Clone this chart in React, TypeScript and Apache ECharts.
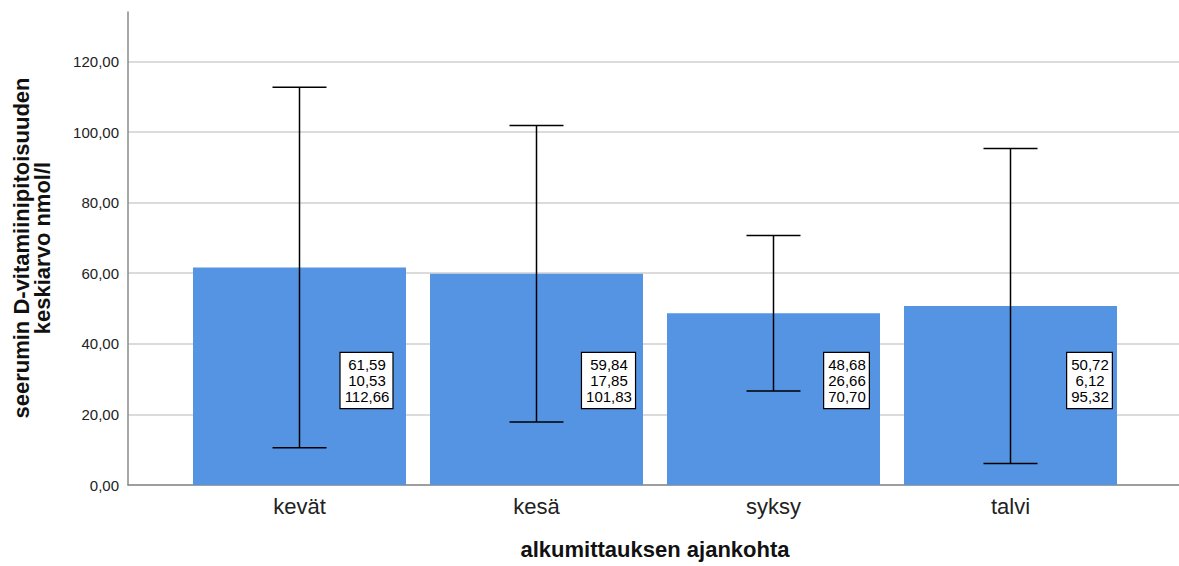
import React, { useEffect, useRef } from "react";
import * as echarts from "echarts";

const categories = ["kevät", "kesä", "syksy", "talvi"];
const means = [61.59, 59.84, 48.68, 50.72];
const lows = [10.53, 17.85, 26.66, 6.12];
const highs = [112.66, 101.83, 70.7, 95.32];
const yTicks = { min: 0, max: 134, interval: 20 };
// horizontal offsets (px) of the value boxes from each bar's centre
const labelDx = [67, 72, 73, 79];

const fmt = (v: number) => v.toFixed(2).replace(".", ",");
const FONT = "Arial, 'Liberation Sans', sans-serif";

export default function App() {
  const ref = useRef<HTMLDivElement>(null);
  useEffect(() => {
    if (!ref.current) return;
    const chart = echarts.init(ref.current, null, { renderer: "svg" });
    const errData = categories.map((_, i) => [i, lows[i], highs[i], means[i]]);
    chart.setOption({
      animation: false,
      textStyle: { fontFamily: FONT },
      grid: [
        { left: 128, right: 0, top: 12, bottom: 81 },
        { left: 181, width: 948, top: 12, bottom: 81 },
      ],
      xAxis: [
        {
          gridIndex: 0,
          type: "category",
          data: [""],
          axisLine: { show: true, lineStyle: { color: "#8a8a8a", width: 1.5 } },
          axisTick: { show: false },
          axisLabel: { show: false },
        },
        {
          gridIndex: 1,
          type: "category",
          data: categories,
          axisLine: { show: false },
          axisTick: { show: false },
          axisLabel: { fontSize: 22, color: "#222", margin: 10, fontFamily: FONT },
        },
      ],
      yAxis: [
        {
          gridIndex: 0,
          type: "value",
          min: yTicks.min,
          max: yTicks.max,
          interval: yTicks.interval,
          axisLine: { show: true, lineStyle: { color: "#8a8a8a", width: 1.5 } },
          axisTick: { show: false },
          axisLabel: {
            fontSize: 15,
            color: "#222",
            margin: 9,
            showMaxLabel: false,
            formatter: (v: number) => fmt(v),
            fontFamily: FONT,
          },
          splitLine: {
            show: true,
            showMaxLine: false,
            lineStyle: { color: "#cfcfcf", width: 1.5 },
          },
        },
        {
          gridIndex: 1,
          type: "value",
          min: yTicks.min,
          max: yTicks.max,
          interval: yTicks.interval,
          show: false,
          splitLine: { show: false },
        },
      ],
      graphic: [
        {
          type: "text",
          x: 32,
          y: 248,
          rotation: Math.PI / 2,
          style: {
            text: "seerumin D-vitamiinipitoisuuden\nkeskiarvo nmol/l",
            font: `bold 22px ${FONT}`,
            fill: "#111",
            align: "center",
            verticalAlign: "middle",
            lineHeight: 21,
          },
        },
        {
          type: "text",
          x: 655,
          y: 549,
          style: {
            text: "alkumittauksen ajankohta",
            font: `bold 22px ${FONT}`,
            fill: "#111",
            align: "center",
            verticalAlign: "middle",
          },
        },
      ],
      series: [
        {
          type: "bar",
          xAxisIndex: 1,
          yAxisIndex: 1,
          data: means,
          barWidth: 213,
          z: 2,
          itemStyle: { color: "#5594E3" },
        },
        {
          type: "custom",
          xAxisIndex: 1,
          yAxisIndex: 1,
          data: errData,
          z: 5,
          renderItem: (params: any, api: any) => {
            const i = api.value(0);
            const lo = api.coord([i, api.value(1)]);
            const hi = api.coord([i, api.value(2)]);
            const mean = api.value(3);
            const x = lo[0];
            const cap = 27;
            const boxCx = x + labelDx[params.dataIndex];
            const boxCy = api.coord([i, 29.6])[1];
            const ls = { stroke: "#000", lineWidth: 1.5 };
            return {
              type: "group",
              children: [
                { type: "line", shape: { x1: x, y1: lo[1], x2: x, y2: hi[1] }, style: ls },
                { type: "line", shape: { x1: x - cap, y1: lo[1], x2: x + cap, y2: lo[1] }, style: ls },
                { type: "line", shape: { x1: x - cap, y1: hi[1], x2: x + cap, y2: hi[1] }, style: ls },
                {
                  type: "text",
                  x: boxCx,
                  y: boxCy,
                  style: {
                    text: [fmt(mean), fmt(api.value(1)), fmt(api.value(2))].join("\n"),
                    font: `15px ${FONT}`,
                    fill: "#000",
                    align: "center",
                    verticalAlign: "middle",
                    lineHeight: 16,
                    backgroundColor: "#fff",
                    borderColor: "#000",
                    borderWidth: 1.2,
                    padding: [4, 3, 3, 4],
                  },
                },
              ],
            };
          },
        },
      ],
    });
    return () => chart.dispose();
  }, []);
  return (
    <div
      ref={ref}
      style={{ position: "fixed", left: 0, top: 0, width: 1179, height: 566, background: "#fff" }}
    />
  );
}
